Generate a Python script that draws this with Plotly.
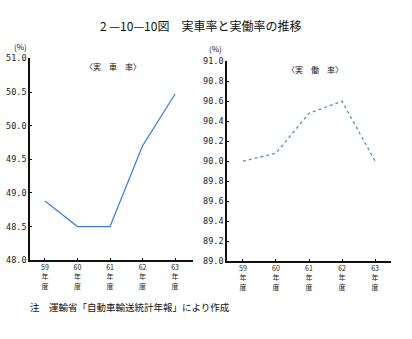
import plotly.graph_objects as go

years = ["59<br>年<br>度", "60<br>年<br>度", "61<br>年<br>度", "62<br>年<br>度", "63<br>年<br>度"]
jissha = [48.88, 48.5, 48.5, 49.7, 50.47]
jitsudo = [90.0, 90.08, 90.48, 90.6, 90.0]
left_ticks = [48.0, 48.5, 49.0, 49.5, 50.0, 50.5, 51.0]
right_ticks = [89.0, 89.2, 89.4, 89.6, 89.8, 90.0, 90.2, 90.4, 90.6, 90.8, 91.0]

FONT = "Noto Sans CJK JP"
xs = list(range(len(years)))

fig = go.Figure()
fig.add_trace(go.Scatter(x=xs, y=jissha, mode="lines",
                         line=dict(color="#3b7fdc", width=1.2), xaxis="x", yaxis="y"))
fig.add_trace(go.Scatter(x=xs, y=jitsudo, mode="lines",
                         line=dict(color="#4a90e2", width=1.3, dash="dot"), xaxis="x2", yaxis="y2"))

common_x = dict(tickmode="array", tickvals=xs, ticktext=years, showgrid=False, zeroline=False,
                showline=True, linecolor="#111", linewidth=1.5, ticks="inside", ticklen=2,
                tickcolor="#111", tickfont=dict(family=FONT, size=7, color="#222"), fixedrange=True)
common_y = dict(showgrid=False, zeroline=False, showline=True, linecolor="#111", linewidth=1.5,
                ticks="inside", ticklen=2, tickcolor="#111", tickformat=".1f",
                tickfont=dict(family="DejaVu Sans Mono", size=8.5, color="#222"), fixedrange=True)


def ann(text, x, y, size, xanchor="center"):
    return dict(text=text, x=x / 412, y=1 - y / 339, xref="paper", yref="paper", showarrow=False,
                xanchor=xanchor, yanchor="middle", font=dict(family=FONT, size=size, color="#111"))


fig.update_layout(
    width=412, height=339, margin=dict(l=0, r=0, t=0, b=0),
    paper_bgcolor="white", plot_bgcolor="white", showlegend=False,
    xaxis=dict(domain=[0.0728, 0.4684], range=[-0.46, 4.55], anchor="y", **common_x),
    yaxis=dict(domain=[0.2242, 0.8378], range=[48.0, 51.0], tickvals=left_ticks, anchor="x", **common_y),
    xaxis2=dict(domain=[0.551, 0.949], range=[-0.48, 4.48], anchor="y2", **common_x),
    yaxis2=dict(domain=[0.2212, 0.829], range=[89.0, 91.0], tickvals=right_ticks, anchor="x2", **common_y),
    annotations=[
        ann("2 —10—10図　実車率と実働率の推移", 200, 21, 12),
        ann("(%)", 20, 43, 8),
        ann("(%)", 215, 45, 8),
        ann("〈実　車　率〉", 113, 63, 8),
        ann("〈実　働　率〉", 315, 66, 8),
        ann("注　運輸省「自動車輸送統計年報」により作成", 28, 311, 9.5, xanchor="left"),
    ],
)

fig.write_html("out.html")
